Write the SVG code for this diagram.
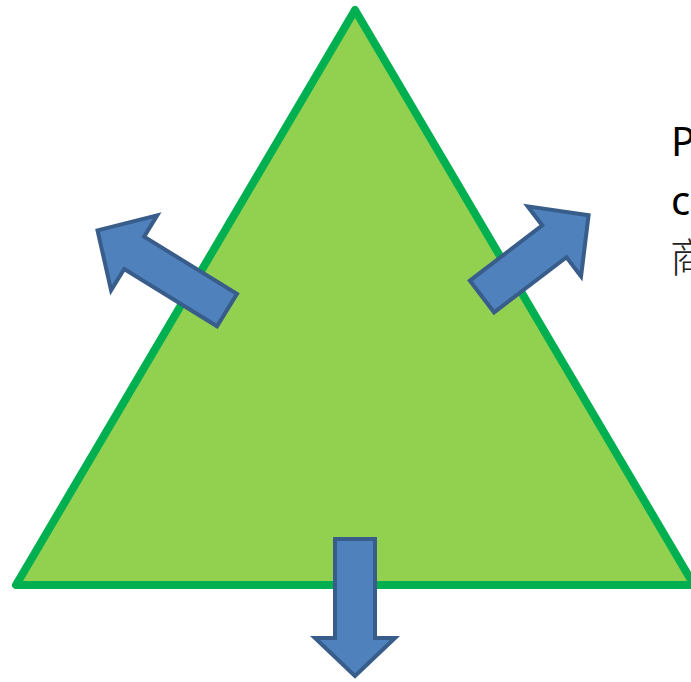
<svg xmlns="http://www.w3.org/2000/svg" width="691" height="682" viewBox="0 0 691 682">
<style>
.tri{fill:#92D050;stroke:#00B050;stroke-width:8;stroke-linejoin:round}
.arr{fill:#4F81BD;stroke:#385D8A;stroke-width:4;stroke-linejoin:miter}
.lat{font-family:"Noto Sans","Open Sans","Liberation Sans",sans-serif;font-size:40px;fill:#000}
.cjk{font-family:"Noto Sans CJK SC","Noto Sans",sans-serif;font-size:40px;font-weight:300;fill:#222}
</style>
<g id="triangle">
<polygon class="tri" points="355,10 16,585 694,585"/>
</g>
<g id="connectors">
<g id="arrow-left" transform="translate(227,310) rotate(211.6)">
<polygon class="arr" points="0,-19 109,-19 109,-44 152,0 109,44 109,19 0,19"/>
</g>
<g id="arrow-right" transform="translate(482,296.5) rotate(-37.3)">
<polygon class="arr" points="0,-20 91,-20 91,-44 134,0 91,44 91,20 0,20"/>
</g>
<g id="arrow-down">
<polygon class="arr" points="335,539 375,539 375,638 395,638 355,676 315,638 335,638"/>
</g>
</g>
<g id="label">
<text class="lat" x="671" y="156">P</text>
<text class="lat" x="671" y="215">c</text>
<text class="cjk" x="670" y="272">商</text>
</g>
</svg>
